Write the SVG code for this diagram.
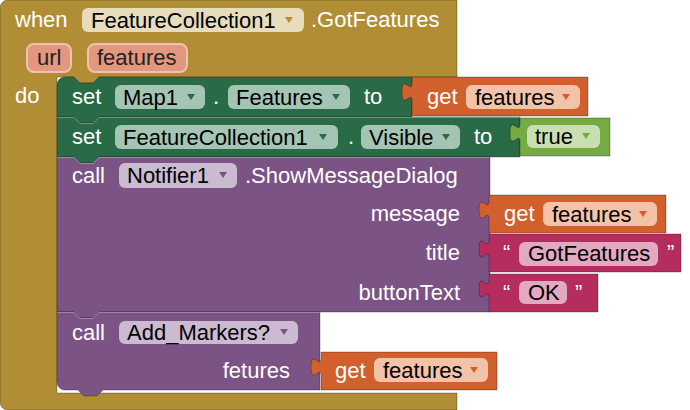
<svg xmlns="http://www.w3.org/2000/svg" width="690" height="410" viewBox="0 0 690 410">
<style>
text{font-family:"Liberation Sans",Arial,sans-serif;font-size:22px}
.w{fill:#fff}
.k{fill:#000}
.r{text-anchor:end}
.blk{stroke:rgba(0,0,0,0.28);stroke-width:1}
.hl{fill:none;stroke:rgba(255,255,255,0.35);stroke-width:1}
.gold{fill:#B18E35}
.green{fill:#2A6B47}
.purple{fill:#7C5385}
.orange{fill:#D1602D}
.mag{fill:#B42D5E}
.lgreen{fill:#76AA42}
.ddE{fill:#E7DCBC}
.ddS{fill:#A5C5B4}
.ddG{fill:#F2C2A9}
.ddT{fill:#C9DFB2}
.ddP{fill:#CBBBD0}
.ddM{fill:#E3A9C1}
.aE{fill:#B18E35}.aS{fill:#2A6B47}.aG{fill:#D1602D}.aT{fill:#76AA42}.aP{fill:#7C5385}
.param{fill:#E3977E;stroke:#F3C2AF;stroke-width:2}
</style>
<rect width="690" height="410" fill="#fff"/>

<g id="event">
<path class="gold blk" d="M0,8 a8,8 0 0 1 8,-8 H457 V77 H99 l-6,6 h-13 l-6,-6 H57 V393 H457 V410 H8 a8,8 0 0 1 -8,-8 Z"/>
<text class="w" x="15" y="27">when</text>
<rect class="ddE" x="82" y="8" width="222" height="24" rx="6"/>
<text class="k" x="91" y="28">FeatureCollection1</text>
<polygon class="aE" points="285,17 293,17 289,23"/>
<text class="w" x="311" y="27">.GotFeatures</text>
<rect class="param" x="27" y="44" width="44" height="28" rx="7"/>
<text x="37" y="65" fill="#222">url</text>
<rect class="param" x="88" y="44" width="99" height="28" rx="7"/>
<text x="97" y="65" fill="#222">features</text>
<text class="w" x="15" y="103">do</text>
</g>

<g id="set-map1">
<path class="green blk" d="M57,85 a8,8 0 0 1 8,-8 H74 l6,6 h13 l6,-6 H412 V117 H99 l-6,6 h-13 l-6,-6 H57 Z"/>
<text class="w" x="72" y="104">set</text>
<rect class="ddS" x="115" y="85" width="90" height="24" rx="6"/>
<text class="k" x="123" y="105">Map1</text>
<polygon class="aS" points="187,94 195,94 191,100"/>
<text class="w" x="213" y="104">.</text>
<rect class="ddS" x="228" y="85" width="122" height="24" rx="6"/>
<text class="k" x="236" y="105">Features</text>
<polygon class="aS" points="332,94 340,94 336,100"/>
<text class="w" x="364" y="104">to</text>
</g>

<g id="get-1">
<path class="orange blk" d="M412,77 V83 c0,12 -10,-10 -10,9 s10,-3 10,9 V116 H588 V77 Z"/>
<text class="w" x="427" y="104">get</text>
<rect class="ddG" x="466" y="85" width="114" height="24" rx="6"/>
<text class="k" x="475" y="105">features</text>
<polygon class="aG" points="562,94 570,94 566,100"/>
</g>

<g id="set-visible">
<path class="green blk" d="M57,117 H74 l6,6 h13 l6,-6 H520 V157 H99 l-6,6 h-13 l-6,-6 H57 Z"/>
<path class="hl" d="M57,117.5 H74 l6,6 h13 l6,-6 H520"/>
<text class="w" x="72" y="144">set</text>
<rect class="ddS" x="115" y="125" width="223" height="24" rx="6"/>
<text class="k" x="123" y="145">FeatureCollection1</text>
<polygon class="aS" points="319,134 327,134 323,140"/>
<text class="w" x="348" y="144">.</text>
<rect class="ddS" x="361" y="125" width="99" height="24" rx="6"/>
<text class="k" x="369" y="145">Visible</text>
<polygon class="aS" points="442,134 450,134 446,140"/>
<text class="w" x="474" y="144">to</text>
</g>

<g id="true">
<path class="lgreen blk" d="M520,118 V124 c0,12 -10,-10 -10,9 s10,-3 10,9 V156 H610 V118 Z"/>
<rect class="ddT" x="527" y="125" width="73" height="23" rx="6"/>
<text class="k" x="535" y="144">true</text>
<polygon class="aT" points="582,133 590,133 586,139"/>
</g>

<g id="call-notifier">
<path class="purple blk" d="M57,157 H74 l6,6 h13 l6,-6 H490 V312 H99 l-6,6 h-13 l-6,-6 H57 Z"/>
<path class="hl" d="M57,157.5 H74 l6,6 h13 l6,-6 H490"/>
<text class="w" x="72" y="183">call</text>
<rect class="ddP" x="119" y="163" width="118" height="25" rx="6"/>
<text class="k" x="127" y="183">Notifier1</text>
<polygon class="aP" points="219,172 227,172 223,178"/>
<text class="w" x="245" y="183">.ShowMessageDialog</text>
<text class="w r" x="460" y="221">message</text>
<text class="w r" x="460" y="260">title</text>
<text class="w r" x="460" y="300">buttonText</text>
</g>

<g id="get-2">
<path class="orange blk" d="M489,195 V201 c0,12 -10,-10 -10,9 s10,-3 10,9 V233 H666 V195 Z"/>
<text class="w" x="504" y="221">get</text>
<rect class="ddG" x="543" y="202" width="114" height="24" rx="6"/>
<text class="k" x="552" y="222">features</text>
<polygon class="aG" points="639,211 647,211 643,217"/>
</g>

<g id="text-title">
<path class="mag blk" d="M489,234 V240 c0,12 -10,-10 -10,9 s10,-3 10,9 V272 H681 V234 Z"/>
<text class="w" x="503" y="260">“</text>
<rect class="ddM" x="519" y="242" width="139" height="24" rx="6"/>
<text class="k" x="528" y="261">GotFeatures</text>
<text class="w" x="667" y="260">”</text>
</g>

<g id="text-ok">
<path class="mag blk" d="M489,274 V280 c0,12 -10,-10 -10,9 s10,-3 10,9 V312 H598 V274 Z"/>
<text class="w" x="503" y="300">“</text>
<rect class="ddM" x="519" y="281" width="48" height="23" rx="6"/>
<text class="k" x="528" y="300">OK</text>
<text class="w" x="575" y="300">”</text>
</g>

<g id="call-add-markers">
<path class="purple blk" d="M57,312 H74 l6,6 h13 l6,-6 H320 V390 H103 l-6,6 h-13 l-6,-6 H65 a8,8 0 0 1 -8,-8 Z"/>
<path class="hl" d="M57,312.5 H74 l6,6 h13 l6,-6 H320"/>
<text class="w" x="72" y="340">call</text>
<rect class="ddP" x="119" y="321" width="179" height="23" rx="6"/>
<text class="k" x="127" y="340">Add_Markers?</text>
<polygon class="aP" points="280,329 288,329 284,335"/>
<text class="w r" x="290" y="378">fetures</text>
</g>

<g id="get-3">
<path class="orange blk" d="M321,352 V358 c0,12 -10,-10 -10,9 s10,-3 10,9 V390 H497 V352 Z"/>
<text class="w" x="335" y="378">get</text>
<rect class="ddG" x="374" y="358" width="114" height="24" rx="6"/>
<text class="k" x="383" y="378">features</text>
<polygon class="aG" points="470,367 478,367 474,373"/>
</g>

<g id="connectors"></g>
</svg>
